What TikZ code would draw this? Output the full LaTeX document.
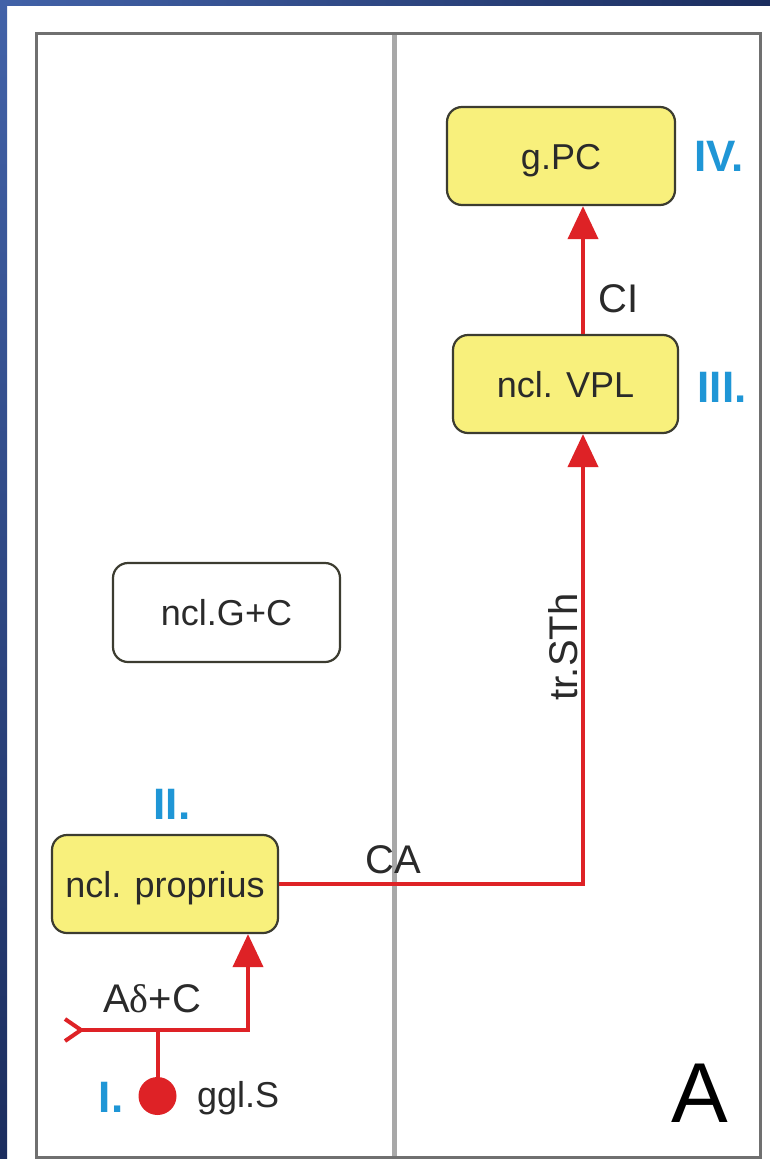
\documentclass[tikz,border=0pt]{standalone}
\usepackage{fontspec}
\setmainfont{Liberation Sans}
\newfontfamily\greekserif{Liberation Serif}
\usetikzlibrary{arrows.meta}
\definecolor{navyA}{HTML}{4262A8}
\definecolor{navyB}{HTML}{1B2D5E}
\definecolor{yel}{HTML}{F8F07C}
\definecolor{boxline}{HTML}{3C3C30}
\definecolor{wirered}{HTML}{DE2226}
\definecolor{romblue}{HTML}{1F96D6}
\definecolor{txt}{HTML}{2A2A2A}
\definecolor{framegray}{HTML}{707070}
\definecolor{divgray}{HTML}{A8A8A8}
\tikzset{
  boxnode/.style={draw=boxline, line width=2.2pt, rounded corners=15pt, fill=yel,
    minimum height=98pt, text height=26pt, text depth=0pt, inner sep=0pt,
    text=txt, font=\fontsize{36}{40}\selectfont},
  lbl/.style={inner sep=0pt, text=txt, font=\fontsize{40}{44}\selectfont},
  roman/.style={inner sep=0pt, text=romblue, font=\bfseries\fontsize{44}{48}\selectfont},
  wire/.style={draw=wirered, line width=4pt},
  head/.style={-{Triangle[length=33pt,width=30pt]}}
}
\begin{document}
\begin{tikzpicture}[x=1pt,y=-1pt]
\useasboundingbox (0,0) rectangle (770,1159);
% background and blue border
\fill[white] (0,0) rectangle (770,1159);
\shade[top color=navyA, bottom color=navyB] (0,0) rectangle (7,1159);
\shade[left color=navyA, right color=navyB] (0,0) rectangle (770,5);
% frame
\draw[divgray, line width=5pt] (394,33) -- (394,1157);
\draw[framegray, line width=3pt] (36,33) rectangle (760,1157);
% boxes
\node[boxnode, minimum width=228pt] (gpc) at (561,156) {g.PC};
\node[boxnode, minimum width=225pt] (vpl) at (565.5,384) {ncl. VPL};
\node[boxnode, fill=white, minimum width=227pt, minimum height=99pt] (gc) at (226.5,612.5) {ncl.G+C};
\node[boxnode, minimum width=226pt] (prop) at (165,884) {ncl. proprius};
% ganglion
\node[circle, fill=wirered, minimum size=38pt, inner sep=0pt] (ggl) at (157.5,1096) {};
% coordinates
\coordinate (colx) at (583,0);
\coordinate (inp) at (63,1030);
\coordinate (turn) at (248,1030);
\coordinate (jn) at (157.5,1030);
% connectors
\draw[wire, head] (vpl.north -| colx) -- (gpc.south -| colx);
\draw[wire, head] (prop.east) -- (prop.east -| colx) -- (vpl.south -| colx);
\draw[wire, {Straight Barb[reversed,length=16pt,width=22pt]}-{Triangle[length=33pt,width=30pt]}] (inp) -- (turn) -- (prop.south -| turn);
\draw[wire] (jn) -- (ggl.center);
% labels
\node[lbl, anchor=base west] (adc) at (103,1012) {A{\greekserif δ}+C};
\node[lbl, anchor=base west] (ca) at (365,873) {CA};
\node[lbl, anchor=base west] (ci) at (598,312) {CI};
\node[lbl, rotate=90] (sth) at (563,647) {tr.STh};
\node[inner sep=0pt, text=txt, font=\fontsize{36}{40}\selectfont, anchor=base west] (ggls) at (197,1107) {ggl.S};
\node[inner sep=0pt, text=black, font=\fontsize{85}{90}\selectfont] (bigA) at (700,1093) {A};
% roman numerals
\node[roman] (r4) at (719,156) {IV.};
\node[roman] (r3) at (722,387) {III.};
\node[roman] (r2) at (172,804) {II.};
\node[roman] (r1) at (111,1097) {I.};
\end{tikzpicture}
\end{document}
